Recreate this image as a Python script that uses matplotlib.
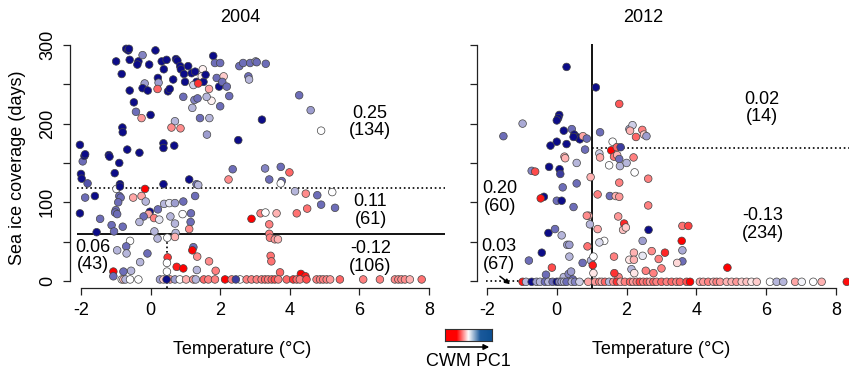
import numpy as np
import matplotlib
matplotlib.use("Agg")
import matplotlib.pyplot as plt
from matplotlib.colors import LinearSegmentedColormap

plt.rcParams['font.family'] = ['Liberation Sans', 'DejaVu Sans']

# ---- 2004 panel: temperature, sea ice days, CWM PC1 (colour) ----
temp_2004 = [-2.03, -1.95, -1.9, -1.88, -2.0, -1.98, -1.81, -1.88, -1.6, -2.03, -1.45, -1.55, -1.2, -1.18, -0.9,
             -1.03, -0.88, -0.99, -0.83, -0.7, -0.64, -0.62, -0.6, -0.6, -0.48, -0.42, -0.26, -0.35, -0.38, -0.23,
             -0.04, 0.14, 0.21, 0.23, -0.17, -0.23, -0.08, 0.2, 0.0, 0.32, 0.38, 0.46, 0.5, 0.55, 0.65, 0.73, 0.77,
             0.85, 0.87, 0.96, 0.99, 0.94, 1.08, 1.18, 1.28, 1.32, 1.23, 1.26, 1.35, 1.5, 1.47, 1.52, 1.58, 1.37,
             1.68, 1.75, 1.61, 1.8, 1.85, 2.0, 1.9, 1.97, 2.1, 2.06, 2.19, 2.26, 2.0, 2.55, 2.66, 2.86, 3.02, 3.05,
             3.31, 2.81, 2.83, 4.27, 4.6, 4.9, 3.2, 2.52, 1.62, 1.42, 1.69, 1.2, 0.7, 0.6, 0.86, -0.81, -0.8, -0.67,
             -0.32, 0.37, 0.37, 0.68, 1.11, 1.32, 1.37, 0.37, 2.24, 2.36, 3.29, 3.41, 3.74, 3.99, 3.77, 3.74, -0.16,
             -0.98, -0.88, -0.9, -0.86, -0.93, -1.0, -1.02, -0.96, -0.8, -1.12, -1.05, -0.5, -0.26, -0.14, -0.02,
             -0.06, -0.2, -0.32, 0.1, 0.25, 0.21, 0.39, 0.54, 0.7, 0.57, 0.7, 0.92, 0.94, 1.16, 1.15, 1.11, 1.28,
             0.11, 0.2, 0.72, 0.7, 0.48, -0.59, -0.7, -0.96, -0.69, -0.09, -0.3, -0.56, -0.78, -1.07, -1.07, 1.23,
             1.2, 1.34, 0.49, 0.75, 0.94, 1.33, 1.68, 1.87, 2.9, 3.16, 3.3, 3.62, 4.2, 4.5, 3.41, 3.41, 3.43, 3.57,
             3.66, 3.45, 3.47, 3.72, 4.15, 4.46, 4.79, 5.22, 4.9, 5.3, 4.32, 4.45, 0.47, 0.47,
             -0.83, -0.78, -0.72, -0.59, -0.35, 0.27, 0.37, 0.56, 0.70, 0.84, 1.02, 1.23, 1.30, 1.53, 1.66, 1.85,
             2.14, 2.33, 2.57, 2.76, 2.90, 3.05, 3.19, 3.29, 3.38, 3.48, 3.57, 3.67, 3.91, 4.10, 4.20, 4.29, 4.48,
             4.77, 4.87, 4.96, 5.06, 5.16, 5.44, 6.11, 6.59, 7.02, 7.12, 7.21, 7.31, 7.45, 7.79, 2.45, 0.46]
ice_2004 = [173, 152, 159, 161, 136, 130, 124, 106, 108, 86, 79, 62, 160, 158, 150,
            137, 123, 279, 263, 295, 293, 295, 281, 242, 227, 215, 207, 279, 275, 287,
            275, 293, 258, 252, 251, 245, 242, 244, 211, 279, 269, 281, 241, 244, 256, 282, 280,
            273, 269, 263, 253, 234, 273, 264, 266, 253, 249, 230, 232, 269, 260, 253, 262, 251,
            244, 229, 234, 286, 277, 277, 258, 247, 260, 253, 247, 235, 222, 273, 277, 277, 279, 278,
            276, 260, 256, 236, 217, 191, 205, 179, 186, 207, 207, 220, 203, 195, 194, 195, 189, 167,
            163, 175, 169, 172, 129, 123, 122, 123, 129, 142, 143, 129, 145, 138, 127, 124, 117,
            117, 120, 108, 106, 100, 90, 87, 85, 69, 71, 63, 106, 108, 101, 88,
            85, 82, 75, 80, 78, 91, 98, 99, 99, 82, 73, 85, 101, 86, 75, 66, 108,
            63, 54, 61, 56, 55, 51, 44, 39, 35, 35, 24, 13, 12, 12, 6, 43,
            39, 31, 30, 18, 16, 14, 25, 13, 79, 86, 87, 86, 86, 92, 72, 60, 55, 53,
            53, 32, 25, 11, 114, 111, 109, 113, 97, 93, 9, 6, 23, 12,
            2, 2, 2, 2, 2, 2, 2, 2, 2, 2, 2, 2, 2, 2, 2, 2,
            2, 2, 2, 2, 2, 2, 2, 2, 2, 2, 2, 2, 2, 2, 2, 2, 2,
            2, 2, 2, 2, 2, 2, 2, 2, 2, 2, 2, 2, 2, 2, 2, 2]
pc1_2004 = [1.0, 0.6, 1.0, 1.0, 1.0, 1.0, 0.7, 0.6, 1.0, 1.0, 0.6, 1.0, 1.0, 1.0, 1.0,
            1.0, 1.0, 1.0, 1.0, 1.0, 1.0, 1.0, 1.0, 1.0, 1.0, 0.6, -0.4, 1.0, 1.0, 0.5,
            1.0, 1.0, 1.0, 0.4, 0.4, 1.0, 1.0, -0.6, 1.0, 1.0, 1.0, 1.0, 1.0, 1.0, 1.0, 1.0, 1.0,
            1.0, 1.0, 1.0, 1.0, 0.6, 1.0, 1.0, 1.0, 1.0, 0.2, 0.5, 0.6, -0.05, -0.05, 1.0, 1.0, -0.8,
            -0.35, -0.05, 0.3, 1.0, 0.6, 0.6, 0.6, 1.0, -0.2, 0.6, 0.6, 0.6, 0.6, 0.6, 0.6, 0.6, 0.3, 0.6,
            0.6, 0.6, 0.3, 0.6, 0.4, 0.0, 1.0, 1.0, 0.4, 0.6, 0.3, 0.3, 0.3, -0.45, -0.45, 1.0, 1.0, 1.0,
            1.0, 1.0, 1.0, 1.0, 1.0, 0.6, 0.3, 1.0, -0.45, 0.6, 0.5, 0.6, 0.6, -0.6, 0.6, 0.0, -1.0,
            0.0, 1.0, 0.6, 0.6, 0.6, 0.6, 0.6, 0.6, 0.6, 0.6, 0.6, -0.35, -0.35, 0.3, 1.0,
            -0.35, 0.6, 0.3, -0.5, 0.1, 0.6, 0.3, 0.1, 0.4, 0.3, 0.3, 0.0, 0.6, 0.6, 0.6, -0.45, 0.6,
            0.3, 0.3, 0.3, -0.3, 0.0, 0.0, 0.6, 0.3, 0.3, 0.6, 0.3, 0.3, 0.6, -1.0, 0.6, 0.6,
            -1.0, -0.45, -0.8, -0.9, -1.0, 0.3, -0.45, -0.5, -1.0, -0.5, 0.0, -0.3, -0.55, -0.55, -0.5, -0.5, -0.5, -0.4,
            -0.3, -0.55, -0.55, -0.6, 0.3, -0.45, 0.6, 0.0, 0.6, 0.6, -1.0, -0.9, 0.0, 0.0,
            0.0, -0.3, 0.3, 0.0, 0.0, 0.4, -0.2, -0.4, 0.4, 0.0, -0.3, -0.4, 0.3, -0.6, -0.5, -0.5,
            -1.0, -0.5, 0.0, -0.5, -0.5, -0.5, -0.5, -0.6, -0.5, -0.6, -0.7, -0.5, -0.6, -0.8, -0.6, -0.5, -0.7,
            -0.5, -0.5, -0.5, -0.5, -0.4, -0.6, -0.5, -0.5, -0.45, -0.45, -0.45, -0.45, -0.3, -0.55, 0.8, 1.0]

# ---- 2012 panel ----
temp_2012 = [0.28, 1.12, 1.79, -0.98, -1.53, 0.07, 0.04, 0.0, 0.2, 0.43, 0.5, 0.56, 0.63, 0.66, 0.48, 0.75,
             0.86, 0.0, 0.28, -0.18, 0.81, 0.22, 0.24, 0.57, -0.22, 0.08, 0.1, -0.72, -0.62, 0.57, 0.17, -0.37,
             -0.46, 0.0, 0.14, 0.48, -0.24, -0.05, 0.14, 0.3, 0.36, 0.36, -0.43, -0.8, -0.31, -0.14, 0.2, 0.34,
             0.46, 0.41, 0.74, 0.88, 0.91, 0.86, 0.95, 0.97, 0.98, 1.05, 1.03, 1.05, 1.24, 1.6, 1.56, 1.72, 1.83,
             1.64, 1.73, 1.79, 1.81, 1.5, 2.0, 2.2, 2.23, 1.22, 1.24, 2.08, 2.17, 2.1, 2.27, 2.45, 2.5, 2.57, 2.62,
             1.17, 1.52, 1.69, 1.79, 1.79, 2.62, 1.76, 1.93, 1.9, 1.98, 1.17, 1.36, 1.22, 2.46, 2.63, 2.21, 2.46,
             2.08, 2.21, 1.64, 2.72, 2.92, 3.1, 2.14, 2.22, 2.55, 2.77, 3.0, 3.6, 3.77, 3.58, 3.6, 3.6, 3.45,
             4.89, 1.77, 1.65,
             -0.98, -0.88, -0.72, -0.58, -0.48, -0.34, -0.24, -0.12, 0.0, 0.07, 0.14, 0.21, 0.28, 0.43, 0.52,
             0.65, 0.9, 1.1, 1.22, 1.29, 1.38, 1.5, 1.62, 1.72, 1.83, 1.95, 2.1, 2.19, 2.29, 2.38, 2.48, 2.58,
             2.67, 2.77, 2.86, 3.0, 3.15, 3.29, 3.43, 3.53, 3.72, 3.82, 4.1, 4.2, 4.34, 4.49, 4.58, 4.68, 4.87,
             5.01, 5.15, 5.3, 5.44, 5.58, 5.73, 6.11, 6.3, 6.49, 6.83, 7.02, 7.35, 7.59, 8.31]
ice_2012 = [272, 246, 225, 200, 184, 211, 207, 204, 191, 193, 186, 183, 182, 180, 183, 184,
            181, 177, 174, 172, 167, 158, 156, 150, 145, 142, 136, 140, 139, 124, 119, 107,
            105, 102, 102, 94, 61, 66, 58, 46, 46, 31, 36, 26, 8, 17, 5, 9,
            2, 12, 23, 44, 83, 83, 72, 132, 26, 31, 20, 10, 189, 177, 166, 170, 170,
            158, 160, 155, 146, 147, 150, 157, 138, 162, 157, 193, 198, 191, 183, 192, 186, 184, 130,
            110, 108, 108, 107, 125, 96, 82, 73, 65, 68, 66, 51, 49, 51, 65, 36, 32,
            27, 27, 31, 38, 28, 36, 15, 10, 13, 10, 16, 70, 70, 51, 39, 25, 23,
            17, 5, 10,
            -1, -1, -1, -1, -1, -1, -1, -1, -1, -1, -1, -1, -1, -1, -1,
            -1, -1, -1, -1, -1, -1, -1, -1, -1, -1, -1, -1, -1, -1, -1, -1, -1,
            -1, -1, -1, -1, -1, -1, -1, -1, -1, -1, -1, -1, -1, -1, -1, -1, -1,
            -1, -1, -1, -1, -1, -1, -1, -1, -1, -1, -1, -1, -1, -1]
pc1_2012 = [1.0, 1.0, -0.65, 0.35, 0.6, 1.0, 1.0, 1.0, 1.0, 0.6, 1.0, 1.0, 1.0, 1.0, 1.0, -0.35,
            0.6, 1.0, 1.0, 1.0, 0.6, -0.3, -0.3, 0.3, 1.0, 1.0, 0.8, 0.5, -0.7, 0.6, 0.6, 1.0,
            -0.9, 0.6, 1.0, 0.6, 1.0, 0.6, 0.3, 0.4, 0.4, 0.3, 1.0, 0.6, 0.6, -0.7, 0.3, 0.5,
            0.6, 0.4, 0.6, -0.55, -0.35, -0.45, 0.3, -0.3, 0.3, 0.0, -0.9, -0.1, 0.6, 0.0, -1.0, -0.6, 0.8,
            -0.55, -0.3, 0.6, 0.3, 0.0, 0.3, -0.5, 0.0, 0.2, -0.35, 0.3, 0.2, -0.3, -0.6, -0.5, -0.2, 0.4, -0.5,
            -0.5, 0.6, -0.3, -0.4, -0.5, -0.5, -0.4, -0.85, -0.25, -0.2, -0.35, 0.0, 0.15, 0.4, 1.0, -0.3, 0.1,
            -0.1, -0.3, -0.5, -0.45, -0.5, -0.85, 0.3, -0.1, -0.5, -0.5, -0.5, -0.55, -0.75, -1.0, 0.35, 0.6, -0.15,
            -1.0, -0.5, -0.8,
            -0.9, 0.3, 1.0, 0.4, 0.3, 0.6, 0.3, 0.6, 1.0, 0.5, 0.4, 0.3, 0.6, 0.3, 0.5,
            0.2, -0.35, -0.4, -0.5, -0.3, -0.6, 0.3, -0.45, -0.8, -0.3, -0.5, -0.6, -0.4, -0.5, -0.7, -0.5, -0.6,
            -0.4, -0.6, -0.5, -0.6, -0.5, -0.6, -0.5, -0.6, -0.7, -1.0, -0.35, -0.4, -0.5, -0.35, -0.5, -0.4, -0.3,
            -0.3, -0.4, -0.2, -0.25, -0.1, -0.2, 0.0, 0.3, 0.3, -0.35, 0.05, 0.0, -0.3, -0.95]

labels_2004 = [("0.25\n(134)", 6.30, 202), ("0.11\n(61)", 6.32, 90),
               ("-0.12\n(106)", 6.32, 29.5), ("0.06\n(43)", -1.65, 32)]
labels_2012 = [("0.02\n(14)", 5.87, 220), ("-0.13\n(234)", 5.9, 72),
               ("0.20\n(60)", -1.63, 106), ("0.03\n(67)", -1.66, 32.4)]

W, H = 849, 371
fig = plt.figure(figsize=(W / 100, H / 100), dpi=100)

pt_cmap = LinearSegmentedColormap.from_list("rwb", ["#ff0000", "#ffffff", "#0c0c88"])
bar_cmap = LinearSegmentedColormap.from_list("rwb2", ["#ff0000", "#ff0000", "#ffffff", "#1a5a9c", "#0d4f92"])


def rect(left_px, right_px, top_px, bottom_px):
    return [left_px / W, 1 - bottom_px / H, (right_px - left_px) / W, (bottom_px - top_px) / H]


def style_axes(ax, xlim, offset, show_ylabels):
    ax.set_xlim(*xlim)
    ax.set_ylim(-9, 301)
    for s in ["top", "right"]:
        ax.spines[s].set_visible(False)
    ax.spines["left"].set_bounds(0, 300)
    ax.spines["left"].set_position(("outward", offset))
    ax.spines["bottom"].set_bounds(-2, 8)
    for s in ["left", "bottom"]:
        ax.spines[s].set_linewidth(0.9)
        ax.spines[s].set_color("#222222")
    ax.set_xticks([-2, 0, 2, 4, 6, 8])
    ax.set_xticklabels(["-2", "0", "2", "4", "6", "8"])
    ax.set_yticks([0, 50, 100, 150, 200, 250, 300])
    if show_ylabels:
        ax.set_yticklabels(["0", "", "100", "", "200", "", "300"], rotation=90, va="center")
    else:
        ax.set_yticklabels([])
    ax.tick_params(direction="out", length=5, width=0.9, labelsize=13, pad=5, color="#222222")
    ax.patch.set_alpha(0)


# left panel
ax1 = fig.add_axes(rect(76.8, 445, 44.1, 288.1))
style_axes(ax1, (-2.12, 8.46), 4.9, True)
ax1.axhline(118, color="black", lw=1.2, ls=":", zorder=1)
ax1.axhline(60, color="black", lw=1.3, zorder=1)
ax1.plot([0.47, 0.47], [-9, 59], color="black", lw=1.2, ls=":", zorder=1)
ax1.scatter(temp_2004, ice_2004, c=pc1_2004, cmap=pt_cmap, vmin=-1, vmax=1, s=30,
            edgecolors="#444444", linewidths=0.5, zorder=3, clip_on=False)
for txt, x, y in labels_2004:
    ax1.text(x, y, txt, ha="center", va="center", fontsize=13, linespacing=1.05, zorder=4)

# right panel (cut by the figure edge)
ax2 = fig.add_axes(rect(486.3, 852.0, 44.1, 288.1))
style_axes(ax2, (-2.02, 8.46), 6.9, False)
ax2.axvline(1.0, color="black", lw=1.3, zorder=1)
ax2.plot([1.0, 8.46], [168.6, 168.6], color="black", lw=1.2, ls=":", zorder=1)
ax2.plot([-2.02, 1.0], [0, 0], color="black", lw=1.2, ls=":", zorder=1)
ax2.scatter(temp_2012, ice_2012, c=pc1_2012, cmap=pt_cmap, vmin=-1, vmax=1, s=30,
            edgecolors="#444444", linewidths=0.5, zorder=3, clip_on=False)
for txt, x, y in labels_2012:
    ax2.text(x, y, txt, ha="center", va="center", fontsize=13, linespacing=1.05, zorder=4)
ax2.annotate("", xy=(-1.34, -4), xytext=(-1.63, 6),
             arrowprops=dict(arrowstyle="-|>", color="black", lw=1.1, mutation_scale=7,
                             shrinkA=0, shrinkB=0), zorder=4)

# titles and axis labels
fig.text(240 / W, 1 - 18 / H, "2004", ha="center", va="center", fontsize=13)
fig.text(643 / W, 1 - 18 / H, "2012", ha="center", va="center", fontsize=13)
fig.text(242 / W, 1 - 350 / H, "Temperature (°C)", ha="center", va="center", fontsize=13)
fig.text(661 / W, 1 - 350 / H, "Temperature (°C)", ha="center", va="center", fontsize=13)
fig.text(18 / W, 1 - 168 / H, "Sea ice coverage (days)", ha="center", va="center",
         rotation=90, fontsize=13)

# colour key
cax = fig.add_axes(rect(445, 492, 329, 341))
cax.imshow(np.linspace(0, 1, 256)[None, :], aspect="auto", cmap=bar_cmap, extent=(0, 1, 0, 1))
cax.set_xticks([])
cax.set_yticks([])
for s in cax.spines.values():
    s.set_linewidth(0.8)
    s.set_color("#333333")
fig.add_artist(matplotlib.patches.FancyArrowPatch((445 / W, 1 - 347 / H), (492 / W, 1 - 347 / H),
                                                  transform=fig.transFigure, arrowstyle="-|>",
                                                  mutation_scale=8, color="black", lw=1.1))
fig.text(468 / W, 1 - 362 / H, "CWM PC1", ha="center", va="center", fontsize=13)

fig.savefig("out.png", dpi=100)
